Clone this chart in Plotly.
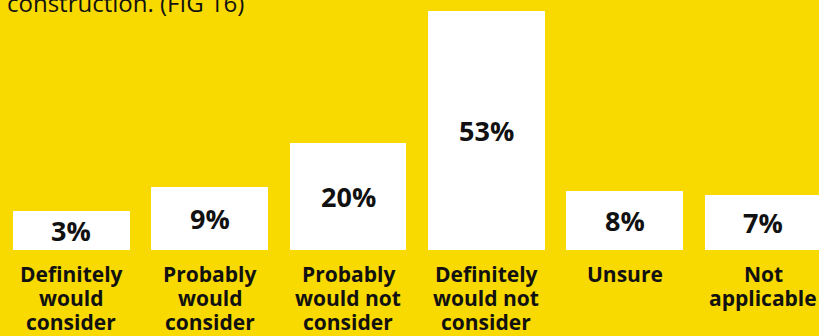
import plotly.graph_objects as go

# Survey responses (percent of respondents)
CATEGORIES = [
    "Definitely would consider",
    "Probably would consider",
    "Probably would not consider",
    "Definitely would not consider",
    "Unsure",
    "Not applicable",
]
LABEL_LINES = [
    ["Definitely", "would", "consider"],
    ["Probably", "would", "consider"],
    ["Probably", "would not", "consider"],
    ["Definitely", "would not", "consider"],
    ["Unsure"],
    ["Not", "applicable"],
]
VALUES = [3, 9, 20, 53, 8, 7]
TITLE_TAIL = "construction. (FIG 16)"

BG = "#F8D900"
INK = "#111111"
FONT = "Open Sans"
PEDESTAL = 6.6          # constant white plinth under every bar so small values stay legible
LINE_STEP = 24          # px between category label lines

xs = list(range(len(CATEGORIES)))

fig = go.Figure()
fig.add_trace(go.Bar(
    x=xs, y=[PEDESTAL] * len(xs),
    marker=dict(color="white", line=dict(width=0)),
    hoverinfo="skip", showlegend=False,
))
fig.add_trace(go.Bar(
    x=xs, y=VALUES,
    marker=dict(color="white", line=dict(width=0)),
    customdata=CATEGORIES,
    hovertemplate="%{customdata}: %{y}%<extra></extra>",
    showlegend=False,
))

annotations = []
# value labels centred in each full bar
for x, v in zip(xs, VALUES):
    annotations.append(dict(
        x=x, y=(PEDESTAL + v) / 2, xref="x", yref="y",
        text=f"<b>{v}%</b>", showarrow=False,
        xanchor="center", yanchor="middle",
        font=dict(family=FONT, size=27, color=INK),
    ))
# category labels under the bars, tight line spacing
for x, lines in zip(xs, LABEL_LINES):
    for i, line in enumerate(lines):
        annotations.append(dict(
            x=x, y=0, xref="x", yref="paper",
            text=f"<b>{line}</b>", showarrow=False,
            xanchor="center", yanchor="top",
            yshift=-(8 + i * LINE_STEP),
            font=dict(family=FONT, size=21, color=INK),
        ))
# tail of the heading above the chart
annotations.append(dict(
    x=0, y=1, xref="paper", yref="paper",
    text=TITLE_TAIL, showarrow=False,
    xanchor="left", yanchor="bottom", xshift=3, yshift=-21,
    font=dict(family=FONT, size=24, color=INK),
))

fig.update_layout(
    width=819, height=336,
    margin=dict(l=2, r=0, t=0, b=86),
    paper_bgcolor=BG, plot_bgcolor=BG,
    barmode="stack", bargap=0.155,
    xaxis=dict(range=[-0.5, 5.403], showticklabels=False, showgrid=False,
               zeroline=False, showline=False, ticks=""),
    yaxis=dict(range=[0, 62.3], showticklabels=False, showgrid=False,
               zeroline=False, showline=False, ticks=""),
    annotations=annotations,
    font=dict(family=FONT, color=INK),
)

fig.write_html("out.html")
